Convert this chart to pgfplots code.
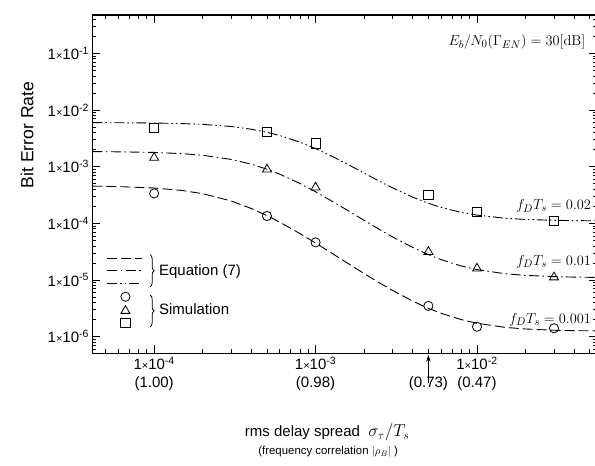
\documentclass[border=0pt]{standalone}
\usepackage[no-math]{fontspec}
\setmainfont{Liberation Sans}
\usepackage{pgfplots}
\pgfplotsset{compat=1.18}
\usetikzlibrary{arrows.meta,decorations.pathreplacing,calc}
\newcommand{\tl}[1]{1{\fontsize{11}{11}\selectfont ×}10\textsuperscript{#1}}
\tikzset{
  eqA/.style={line width=0.9pt, dash pattern=on 10pt off 4pt},
  eqB/.style={line width=0.9pt, dash pattern=on 10pt off 3.5pt on 1.5pt off 3.5pt},
  eqC/.style={line width=0.9pt, dash pattern=on 10pt off 3pt on 1.5pt off 3pt on 1.5pt off 3pt},
}
\begin{document}
\begin{tikzpicture}
\begin{axis}[
  width=504pt, height=338.3pt, scale only axis,
  xmode=log, ymode=log,
  xmin=4.15e-5, xmax=0.055, ymin=5.1e-7, ymax=0.475,
  xtick={1e-4,1e-3,1e-2},
  xticklabels={{\tl{-4}\\(1.00)},{\tl{-3}\\(0.98)},{\tl{-2}\\(0.47)}},
  minor xtick={5e-5,6e-5,7e-5,8e-5,9e-5,2e-4,3e-4,4e-4,5e-4,6e-4,7e-4,8e-4,9e-4,2e-3,3e-3,4e-3,5e-3,6e-3,7e-3,8e-3,9e-3,2e-2,3e-2,4e-2,5e-2},
  extra x ticks={5e-3},
  extra x tick labels={{\phantom{\tl{-4}}\\(0.73)}},
  extra x tick style={major tick length=0pt},
  xticklabel style={align=center, font=\fontsize{15}{18}\selectfont},
  ytick={1e-6,1e-5,1e-4,1e-3,1e-2,1e-1},
  yticklabels={\tl{-6},\tl{-5},\tl{-4},\tl{-3},\tl{-2},\tl{-1}},
  minor ytick={6e-7,7e-7,8e-7,9e-7,2e-6,3e-6,4e-6,5e-6,6e-6,7e-6,8e-6,9e-6,2e-5,3e-5,4e-5,5e-5,6e-5,7e-5,8e-5,9e-5,2e-4,3e-4,4e-4,5e-4,6e-4,7e-4,8e-4,9e-4,2e-3,3e-3,4e-3,5e-3,6e-3,7e-3,8e-3,9e-3,2e-2,3e-2,4e-2,5e-2,6e-2,7e-2,8e-2,9e-2,2e-1,3e-1,4e-1},
  yticklabel style={font=\fontsize{15}{18}\selectfont},
  axis line style={line width=1.1pt},
  every tick/.style={black, line width=0.8pt},
  major tick length=8pt, minor tick length=4pt,
  clip=false,
  xlabel={rms delay spread\ \ {\fontsize{17}{20}\selectfont$\sigma_\tau/T_s$}},
  xlabel style={at={(rel axis cs:0.4656,-0.233)}, anchor=center, font=\fontsize{15}{18}\selectfont},
  ylabel={Bit Error Rate},
  ylabel style={at={(rel axis cs:-0.13,0.645)}, anchor=center, font=\fontsize{17.6}{20}\selectfont},
  legend style={at={(axis description cs:0.0282,0.302)}, anchor=north west, draw=none, fill=none,
    inner sep=0pt, outer sep=0pt, row sep=0pt, column sep=2pt,
    font=\fontsize{15}{18}\selectfont},
  legend cell align=left,
]
% Equation (7) curves
\addplot[eqA, forget plot] coordinates {
(4.15e-5,4.54e-4) (6e-5,4.46e-4) (1e-4,4.21e-4) (1.5e-4,3.80e-4) (2e-4,3.34e-4) (3e-4,2.49e-4) (4e-4,1.83e-4) (5e-4,1.37e-4) (6e-4,1.05e-4) (8e-4,6.61e-5) (1e-3,4.50e-5) (1.3e-3,2.82e-5) (1.6e-3,1.94e-5) (2e-3,1.30e-5) (2.5e-3,8.85e-6) (3e-3,6.56e-6) (4e-3,4.25e-6) (5e-3,3.17e-6) (6e-3,2.59e-6) (8e-3,2.00e-6) (1e-2,1.73e-6) (1.5e-2,1.46e-6) (2e-2,1.37e-6) (3e-2,1.30e-6) (4e-2,1.28e-6) (5.5e-2,1.27e-6)};
\addplot[eqB, forget plot] coordinates {
(4.15e-5,1.85e-3) (6e-5,1.83e-3) (1e-4,1.785e-3) (1.5e-4,1.70e-3) (2e-4,1.59e-3) (3e-4,1.345e-3) (4e-4,1.108e-3) (5e-4,9.03e-4) (6e-4,7.38e-4) (8e-4,5.05e-4) (1e-3,3.61e-4) (1.3e-3,2.35e-4) (1.6e-3,1.66e-4) (2e-3,1.13e-4) (2.5e-3,7.76e-5) (3e-3,5.77e-5) (4e-3,3.76e-5) (5e-3,2.81e-5) (6e-3,2.29e-5) (8e-3,1.77e-5) (1e-2,1.53e-5) (1.5e-2,1.29e-5) (2e-2,1.21e-5) (3e-2,1.15e-5) (4e-2,1.127e-5) (5.5e-2,1.114e-5)};
\addplot[eqC, forget plot] coordinates {
(4.15e-5,5.99e-3) (6e-5,5.97e-3) (1e-4,5.90e-3) (1.5e-4,5.76e-3) (2e-4,5.58e-3) (3e-4,5.12e-3) (4e-4,4.59e-3) (5e-4,4.05e-3) (6e-4,3.55e-3) (8e-4,2.71e-3) (1e-3,2.09e-3) (1.3e-3,1.466e-3) (1.6e-3,1.081e-3) (2e-3,7.70e-4) (2.5e-3,5.50e-4) (3e-3,4.23e-4) (4e-3,2.90e-4) (5e-3,2.27e-4) (6e-3,1.91e-4) (8e-3,1.56e-4) (1e-2,1.40e-4) (1.5e-2,1.23e-4) (2e-2,1.174e-4) (3e-2,1.133e-4) (4e-2,1.119e-4) (5.5e-2,1.11e-4)};
% Simulation points
\addplot[only marks, mark=o, mark size=4.6pt, mark options={line width=0.8pt}, forget plot] coordinates {
(1e-4,3.38e-4) (5e-4,1.35e-4) (1e-3,4.62e-5) (5e-3,3.5e-6) (1e-2,1.5e-6) (3e-2,1.41e-6)};
\addplot[only marks, mark=triangle, mark size=5.2pt, mark options={line width=0.8pt}, forget plot] coordinates {
(1e-4,1.44e-3) (5e-4,8.95e-4) (1e-3,4.32e-4) (5e-3,3.15e-5) (1e-2,1.6e-5) (3e-2,1.12e-5)};
\addplot[only marks, mark=square, mark size=4.6pt, mark options={line width=0.8pt}, forget plot] coordinates {
(1e-4,4.85e-3) (5e-4,4.13e-3) (1e-3,2.58e-3) (5e-3,3.15e-4) (1e-2,1.6e-4) (3e-2,1.1e-4)};
% legend
\addlegendimage{legend image code/.code={
  \path[draw=none, fill=none] (0pt,-19.65pt) rectangle (48pt,19.65pt);
  \draw[eqA] (0pt,12.6pt) -- (35pt,12.6pt);
  \draw[eqB] (0pt,0pt) -- (35pt,0pt);
  \draw[eqC] (0pt,-12.6pt) -- (35pt,-12.6pt);
  \draw[line width=0.8pt, decorate, decoration={brace, amplitude=4pt}] (43pt,16pt) -- (43pt,-16pt);
}}
\addlegendentry{Equation (7)}
\addlegendimage{legend image code/.code={
  \path[draw=none, fill=none] (0pt,-19.65pt) rectangle (48pt,19.65pt);
  \draw[line width=0.8pt] plot[only marks, mark=o, mark size=4.6pt] coordinates {(18.3pt,13.3pt)};
  \draw[line width=0.8pt] plot[only marks, mark=triangle, mark size=5.2pt] coordinates {(18.3pt,-0.7pt)};
  \draw[line width=0.8pt] plot[only marks, mark=square, mark size=4.6pt] coordinates {(18.3pt,-12.7pt)};
  \draw[line width=0.8pt, decorate, decoration={brace, amplitude=4pt}] (43pt,15pt) -- (43pt,-16.7pt);
}}
\addlegendentry{Simulation}
% annotations
\node[anchor=east, font=\fontsize{15.3}{18}\selectfont] at (rel axis cs:0.985,0.92) {$E_b/N_0(\Gamma_{EN}) = 30[\mathrm{dB}]$};
\node[anchor=east, font=\fontsize{15.4}{18}\selectfont] at (axis cs:0.0535,2.02e-4) {$f_DT_s = 0.02$};
\node[anchor=east, font=\fontsize{15.4}{18}\selectfont] at (axis cs:0.0535,2.1e-5) {$f_DT_s = 0.01$};
\node[anchor=east, font=\fontsize{15.4}{18}\selectfont] at (axis cs:0.0535,2.0e-6) {$f_DT_s = 0.001$};
\node[font=\fontsize{11.4}{13}\selectfont] at (rel axis cs:0.4675,-0.2909) {(frequency correlation $|\rho_B|$ )};
\draw[line width=0.8pt, -{Stealth[length=7pt,width=4.5pt]}] ([yshift=-29.7pt]axis cs:5e-3,5.1e-7) -- ([yshift=-1.5pt]axis cs:5e-3,5.1e-7);
\end{axis}
\pgfresetboundingbox
\path[use as bounding box] ($(current axis.south west)+(-92.5pt,-111.7pt)$) rectangle ($(current axis.north east)+(-1.5pt,15pt)$);
\end{tikzpicture}
\end{document}
